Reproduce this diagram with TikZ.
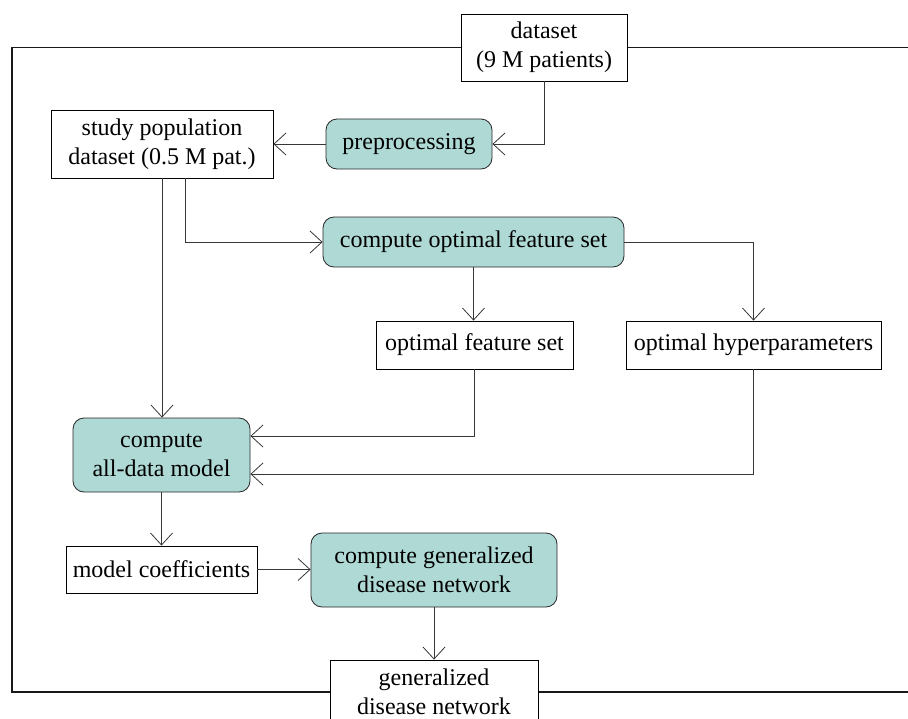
\documentclass[tikz,border=0pt]{standalone}
\usepackage{fontspec}
\setmainfont{Liberation Serif}
\usetikzlibrary{arrows.meta}
\definecolor{tealfill}{RGB}{174,217,213}
\definecolor{linegray}{RGB}{55,55,55}
\begin{document}
\begin{tikzpicture}[x=1pt,y=-1pt,
  base/.style={draw=black, line width=0.8pt, inner sep=0pt, align=center,
    font=\fontsize{24}{29}\selectfont},
  databox/.style={base, fill=white},
  procbox/.style={base, fill=tealfill, rounded corners=11pt, draw=black!85},
  arr/.style={draw=linegray, line width=0.8pt, -{Straight Barb[length=12pt,width=22pt,line width=0.8pt]}},
  framestyle/.style={draw=black!90, line width=1.6pt}
]
\useasboundingbox (0,0) rectangle (908,718);
\begin{scope}
\clip (0,0) rectangle (908,718);
% outer frame
\draw[framestyle] (12,47.5) rectangle (930,692);

% nodes
\node[databox, minimum width=166pt, minimum height=67pt] (dataset) at (544,47.5) {dataset\\(9 M patients)};
\node[databox, minimum width=222pt, minimum height=68pt] (study) at (162,144) {study population\\dataset (0.5 M pat.)};
\node[procbox, minimum width=166pt, minimum height=50pt] (prep) at (409,144) {preprocessing};
\node[procbox, minimum width=301pt, minimum height=50pt] (cofs) at (473.5,242) {compute optimal feature set};
\node[databox, minimum width=197pt, minimum height=48pt] (ofs) at (474.5,345) {optimal feature set};
\node[databox, minimum width=255pt, minimum height=48pt] (hyper) at (753.5,345) {optimal hyperparameters};
\node[procbox, minimum width=177pt, minimum height=74pt] (alldata) at (161.5,455) {compute\\all-data model};
\node[databox, minimum width=191pt, minimum height=47pt] (mc) at (161.5,569.5) {model coefficients};
\node[procbox, minimum width=246pt, minimum height=74pt] (cgdn) at (434,570) {compute generalized\\disease network};
\node[databox, minimum width=208pt, minimum height=64pt] (gdn) at (434,692) {generalized\\disease network};

% connectors
\draw[arr] (dataset.south) |- (prep.east);
\draw[arr] (prep.west) -- (study.east);
\draw[arr] ([xshift=23pt]study.south) |- (cofs.west);
\draw[arr] (cofs.south) -- (cofs.south |- ofs.north);
\draw[arr] (cofs.east) -| (hyper.north);
\draw[arr] (study.south) -- (study.south |- alldata.north);
\draw[arr] (ofs.south) |- ([yshift=19pt]alldata.east);
\draw[arr] (hyper.south) |- ([yshift=-19pt]alldata.east);
\draw[arr] (alldata.south) -- (mc.north);
\draw[arr] (mc.east) -- (mc.east -| cgdn.west);
\draw[arr] (cgdn.south) -- (gdn.north);
\end{scope}
\end{tikzpicture}
\end{document}
